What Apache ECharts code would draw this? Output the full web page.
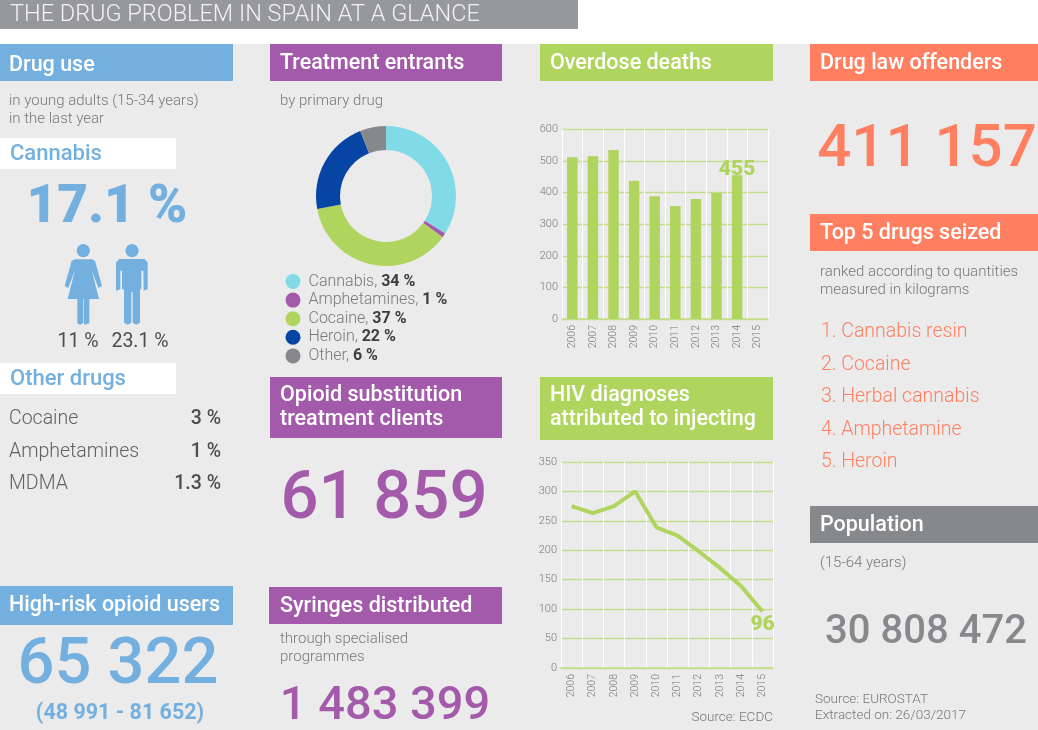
<!DOCTYPE html>
<html><head><meta charset="utf-8">
<style>html,body{margin:0;padding:0;background:#fff}#c{width:1038px;height:730px}</style>
<script src="https://cdn.jsdelivr.net/npm/echarts@6/dist/echarts.min.js"></script></head>
<body><div id="c"></div>
<script>
const donutNames = ['Cannabis','Amphetamines','Cocaine','Heroin','Other'];
const donutValues = [34,1,37,22,6];
const donutColors = ['#80dbe6','#a45aaa','#b0d55f','#0645a3','#87888b'];
const years = ['2006','2007','2008','2009','2010','2011','2012','2013','2014','2015'];
const deaths = [512,515,535,438,389,358,380,399,455,null];
const hiv = [275,263,275,300,239,225,198,170,139,96];
const seized = ['1. Cannabis resin','2. Cocaine','3. Herbal cannabis','4. Amphetamine','5. Heroin'];
const otherDrugs = [['Cocaine','3 %'],['Amphetamines','1 %'],['MDMA','1.3 %']];

const BLUE='#74b0df',PURPLE='#a45aaa',GREEN='#b0d55f',ORANGE='#ff7f60',GREY='#87888b',DARK='#4c4d50',LIGHT='#77787b';
const FONT='Roboto';
const G=[];
const rect=(x,y,w,h,fill)=>G.push({type:'rect',silent:true,shape:{x,y,width:w,height:h},style:{fill}});
const txt=(x,y,text,size,fill,weight,align,sp)=>G.push({type:'text',silent:true,x,y:y+size*0.09,style:{text,font:`${weight||400} ${size}px ${FONT}`,fill,textAlign:align||'left',textVerticalAlign:'middle',letterSpacing:sp||0}});
const poly=(pts,fill)=>G.push({type:'polygon',silent:true,shape:{points:pts},style:{fill}});
const circ=(cx,cy,r,fill)=>G.push({type:'circle',silent:true,shape:{cx,cy,r},style:{fill}});
const z=a=>a.map(p=>[p[0]/3,p[1]/3]);

rect(0,44,1038,686,'#ebebeb');
rect(0,0,578,29,'#97989b');
txt(10,13,'THE DRUG PROBLEM IN SPAIN AT A GLANCE',23.5,'#f2f2f2',300,'left',1.25);

// column 1
rect(0,44,233,37,BLUE); txt(9,64,'Drug use',21.5,'#fff',500);
txt(9,100,'in young adults (15-34 years)',15,LIGHT,300,'left',0.45);
txt(9,118,'in the last year',15,LIGHT,300,'left',0.45);
rect(0,138,176,31,'#fff'); txt(10,153,'Cannabis',22,BLUE,500,'left',0.9);
txt(107,204,'17.1 %',53,BLUE,900,'center');
circ(83.3,250.7,6.6,BLUE); circ(132,250.7,6.6,BLUE);
poly(z([[225,778],[275,778],[285,782],[306,858],[295,864],[275,810],[297,897],[268,897],[268,970],[255,974],[251,970],[251,897],[249,897],[249,970],[240,974],[232,970],[232,897],[203,897],[225,810],[205,864],[194,858],[215,782]]),BLUE);
poly(z([[358,777],[433,777],[443,787],[443,868],[431,872],[430,812],[424,812],[424,868],[420,868],[420,968],[409,974],[398,968],[398,876],[394,876],[394,968],[383,974],[372,968],[372,868],[366,868],[366,812],[361,812],[361,868],[348,872],[348,787]]),BLUE);
txt(78,340,'11 %',19.5,DARK,400,'center',1);
txt(140,340,'23.1 %',19.5,DARK,400,'center',1.8);
rect(0,363,176,31,'#fff'); txt(10,378,'Other drugs',22,BLUE,500,'left',0.5);
otherDrugs.forEach((d,i)=>{const y=[417.5,450.5,482.5][i];txt(9,y,d[0],19.5,'#606164',300,'left',0.1);txt(221,y,d[1],19.5,DARK,500,'right',0.8);});
rect(0,586,233,39,BLUE); txt(9,604,'High-risk opioid users',21.5,'#fff',500);
txt(118,661,'65 322',65,BLUE,500,'center',5.5);
txt(120,712,'(48 991 - 81 652)',21.5,BLUE,700,'center',1.6);

// column 2
rect(270,44,232,37,PURPLE); txt(280,62,'Treatment entrants',21.5,'#fff',500,'left',0.1);
txt(280,100,'by primary drug',15,LIGHT,300,'left',0.4);
rect(270,377,232,61,PURPLE); txt(280,394,'Opioid substitution',21.5,'#fff',500,'left',0.1); txt(280,418,'treatment clients',21.5,'#fff',500,'left',0.1);
txt(384,495,'61 859',67,PURPLE,500,'center',5.5);
rect(269,587,233,37,PURPLE); txt(280,605,'Syringes distributed',21.5,'#fff',500,'left',0.1);
txt(280,638,'through specialised',15,LIGHT,300,'left',0.6);
txt(280,656,'programmes',15,LIGHT,300,'left',0.6);
txt(385,703,'1 483 399',47,PURPLE,500,'center',0.7);

// column 3
rect(540,44,233,37,GREEN); txt(550,62,'Overdose deaths',21.5,'#fff',500,'left',0.1);
rect(540,377,233,63,GREEN); txt(550,394,'HIV diagnoses',21.5,'#fff',500,'left',0.1); txt(550,418,'attributed to injecting',21.5,'#fff',500,'left',0.1);
txt(773,716,'Source: ECDC',13.5,LIGHT,300,'right',0.9);

// column 4
rect(810,44,228,37,ORANGE); txt(820,62,'Drug law offenders',21.5,'#fff',500);
txt(927,146,'411 157',60,ORANGE,500,'center',1.5);
rect(810,214,228,37,ORANGE); txt(820,232,'Top 5 drugs seized',21.5,'#fff',500);
txt(820,271,'ranked according to quantities',15,LIGHT,300,'left',0.55);
txt(820,289,'measured in kilograms',15,LIGHT,300,'left',0.55);
seized.forEach((s,i)=>txt(821,[330.5,363.5,395.5,428.5,460.5][i],s,19.5,ORANGE,300,'left',0.3));
rect(810,506,228,37,GREY); txt(820,524,'Population',21.5,'#fff',500);
txt(820,561.5,'(15-64 years)',15,LIGHT,300,'left',0.5);
txt(926,629,'30 808 472',40,GREY,500,'center',0.8);
rect(730,650,1,55,'rgba(255,255,255,0.2)');
txt(745,678,'Breaking Bad',46,'rgba(255,255,255,0.09)',700,'left',2);
txt(815,698,'Source: EUROSTAT',13.5,LIGHT,300,'left',0.75);
txt(815,714,'Extracted on: 26/03/2017',13.5,LIGHT,300,'left',0.75);

const yAxisBase=(max,interval)=>({type:'value',min:0,max,interval,axisLine:{show:false},axisTick:{show:false},
  axisLabel:{color:'#77787b',fontFamily:FONT,fontWeight:300,fontSize:11,margin:4},
  splitLine:{lineStyle:{color:'#c3de8b',width:1.3}}});
const xAxisBase=()=>({type:'category',data:years,axisTick:{show:false},axisLine:{show:true,lineStyle:{color:'#c3de8b',width:1.5}},
  axisLabel:{rotate:90,color:'#77787b',fontFamily:FONT,fontWeight:300,fontSize:10.5,margin:6,interval:0},
  splitLine:{show:true,interval:0,lineStyle:{color:'#ffffff',width:1}}});

const opt={animation:false,backgroundColor:'transparent',
 graphic:G,
 legend:{left:285.5,top:273.5,orient:'vertical',icon:'circle',itemWidth:15,itemHeight:15,itemGap:2.6,padding:0,selectedMode:false,
   data:donutNames,
   formatter:n=>`{a|${n}, }{b|${donutValues[donutNames.indexOf(n)]} %}`,
   textStyle:{fontFamily:FONT,padding:[0,0,0,3],rich:{a:{fontSize:16,color:'#77787b',fontWeight:300,fontFamily:FONT},b:{fontSize:16,color:'#3c3d40',fontWeight:700,fontFamily:FONT}}}},
 grid:[{left:562,top:129.5,width:206,height:189.5},{left:561,top:462,width:212,height:206}],
 xAxis:[Object.assign(xAxisBase(),{gridIndex:0}),Object.assign(xAxisBase(),{gridIndex:1})],
 yAxis:[Object.assign(yAxisBase(600,100),{gridIndex:0}),Object.assign(yAxisBase(350,50),{gridIndex:1})],
 series:[
  {type:'pie',radius:[46,70],center:[386,196],startAngle:90,clockwise:true,label:{show:false},labelLine:{show:false},silent:true,
   data:donutNames.map((n,i)=>({name:n,value:donutValues[i],itemStyle:{color:donutColors[i]}}))},
  {type:'bar',xAxisIndex:0,yAxisIndex:0,data:deaths,barWidth:10.5,itemStyle:{color:GREEN},z:3,silent:true,
   label:{show:true,position:'top',distance:-5,color:GREEN,fontFamily:FONT,fontWeight:900,fontSize:21,
     formatter:p=>p.dataIndex===8?String(p.value):''}},
  {type:'line',xAxisIndex:1,yAxisIndex:1,data:hiv,symbol:'none',lineStyle:{color:GREEN,width:4},z:3,silent:true,
   endLabel:{show:true,offset:[-20,13],color:GREEN,fontFamily:FONT,fontWeight:900,fontSize:21}}
 ]};
const ch=echarts.init(document.getElementById('c'),null,{renderer:'canvas'});
ch.setOption(opt);
</script></body></html>
